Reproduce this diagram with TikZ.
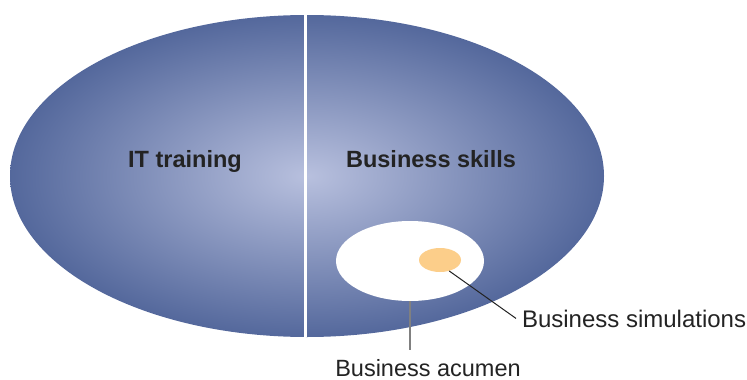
\documentclass[tikz,border=0pt]{standalone}
\usepackage{fontspec}
\setmainfont{Liberation Sans}
\usetikzlibrary{shapes.geometric,positioning}
\definecolor{skillblue}{RGB}{84,104,156}
\definecolor{skilllight}{RGB}{184,192,222}
\definecolor{simorange}{RGB}{252,206,138}
\definecolor{labelgray}{RGB}{35,35,35}
\begin{document}
\begin{tikzpicture}[x=1pt, y=-1pt, font=\fontsize{23.5}{27}\selectfont,
    area/.style = {ellipse, inner sep=0pt},
    tag/.style = {text=labelgray, inner sep=0pt},
    heading/.style = {tag, font=\bfseries\fontsize{23.5}{27}\selectfont}]
    \useasboundingbox (0,0) rectangle (747,380);
    \node[area, minimum width=594pt, minimum height=322pt, inner color=skilllight, outer color=skillblue] (skills) at (307,176) {};
    \draw[white, line width=3.5pt] ([xshift=-1.5pt]skills.north) -- ([xshift=-1.5pt]skills.south);

    \node[heading, anchor=base] (it) at (185,167) {IT training};
    \node[heading, anchor=base] (biz) at (431,167) {Business skills};

    \node[area, fill=white, minimum width=148pt, minimum height=80pt] (acumen) at (410,261) {};
    \node[area, fill=simorange, minimum width=42pt, minimum height=24pt] (sim) at (440,260) {};

    \node[tag, anchor=base west, outer sep=6pt, font=\fontsize{24}{27}\selectfont] (simlabel) at (516,327) {Business simulations};
    \node[tag, anchor=base, outer sep=9pt] (acumenlabel) at (428,376) {Business acumen};

    \draw[labelgray, line width=1pt] (sim.-50) -- (simlabel.west);
    \draw[gray, line width=1.3pt] (acumen.south) -- (acumen.south |- acumenlabel.north);
\end{tikzpicture}
\end{document}
